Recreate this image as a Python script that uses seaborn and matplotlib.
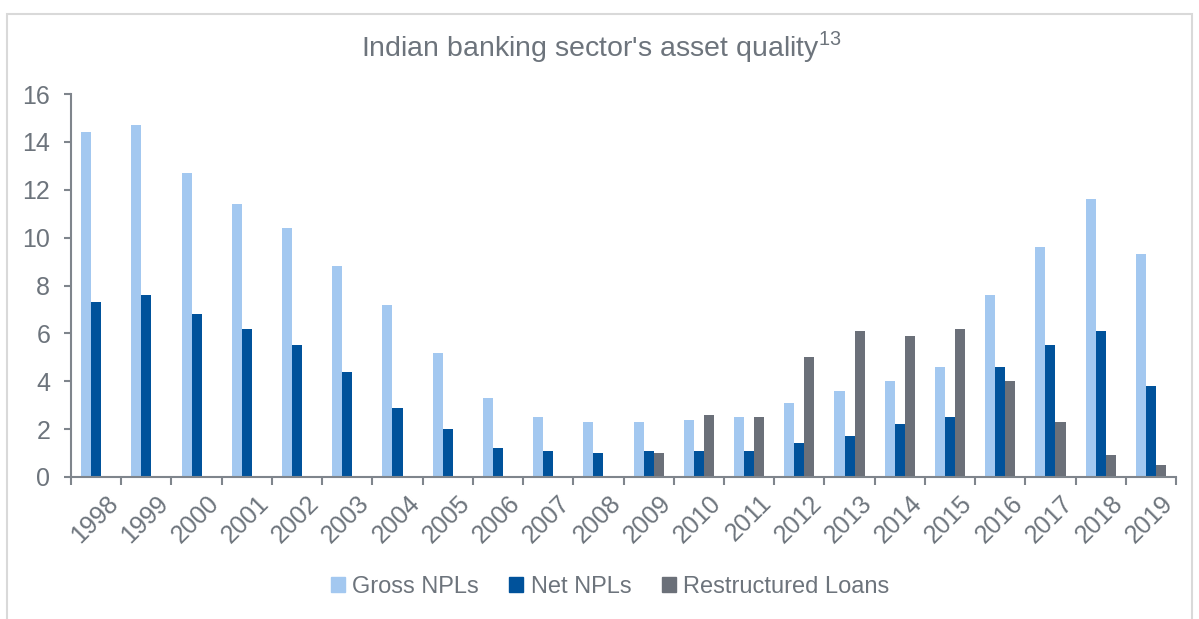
import matplotlib
matplotlib.use("Agg")
import matplotlib.pyplot as plt
import matplotlib.patches as mpatches
import numpy as np
import pandas as pd
import seaborn as sns

years = [str(y) for y in range(1998, 2020)]
gross_npls = [14.4, 14.7, 12.7, 11.4, 10.4, 8.8, 7.2, 5.2, 3.3, 2.5, 2.3,
              2.3, 2.4, 2.5, 3.1, 3.6, 4.0, 4.6, 7.6, 9.6, 11.6, 9.3]
net_npls = [7.3, 7.6, 6.8, 6.2, 5.5, 4.4, 2.9, 2.0, 1.2, 1.1, 1.0,
            1.1, 1.1, 1.1, 1.4, 1.7, 2.2, 2.5, 4.6, 5.5, 6.1, 3.8]
restructured = [np.nan] * 11 + [1.0, 2.6, 2.5, 5.0, 6.1, 5.9, 6.2, 4.0, 2.3, 0.9, 0.5]
series_names = ["Gross NPLs", "Net NPLs", "Restructured Loans"]
colors = ["#A3C8F0", "#00529B", "#6B7079"]
y_ticks = [0, 2, 4, 6, 8, 10, 12, 14, 16]

df = pd.DataFrame({
    "year": years * 3,
    "value": gross_npls + net_npls + restructured,
    "series": [series_names[0]] * 22 + [series_names[1]] * 22 + [series_names[2]] * 22,
})

sns.set_theme(style="white")
plt.rcParams["font.family"] = ["Liberation Sans", "DejaVu Sans"]
plt.rcParams["mathtext.fontset"] = "custom"
plt.rcParams["mathtext.rm"] = "Liberation Sans"

text_color = "#6D747C"
axis_color = "#7F858C"

fig = plt.figure(figsize=(11.99, 6.19), dpi=100)
ax = fig.add_axes([71 / 1199, 1 - 477 / 619, (1176 - 71) / 1199, (477 - 94) / 619])

sns.barplot(data=df, x="year", y="value", hue="series", hue_order=series_names,
            palette=colors, width=0.6, ax=ax, legend=False, saturation=1, linewidth=0)

ax.set_xlim(-0.5, len(years) - 0.5)
ax.set_ylim(0, 16)
ax.set_yticks(y_ticks)
ax.set_xlabel("")
ax.set_ylabel("")

for s in ["top", "right"]:
    ax.spines[s].set_visible(False)
for s in ["left", "bottom"]:
    ax.spines[s].set_color(axis_color)
    ax.spines[s].set_linewidth(1.5)

ax.tick_params(axis="y", which="major", direction="out", length=5, width=1.5,
               color=axis_color, labelcolor=text_color, labelsize=18, pad=10, left=True)
ax.set_xticks(np.arange(len(years)))
ax.set_xticklabels(years, rotation=45, ha="right", rotation_mode="anchor")
ax.tick_params(axis="x", which="major", length=0, labelcolor=text_color, labelsize=18, pad=10)
ax.set_xticks(np.arange(-0.5, len(years), 1.0), minor=True)
ax.tick_params(axis="x", which="minor", direction="out", length=6, width=1.5,
               color=axis_color, bottom=True)
for lbl in ax.get_xticklabels():
    lbl.set_transform(lbl.get_transform() + matplotlib.transforms.ScaledTranslation(10 / 100, 0, fig.dpi_scale_trans))

fig.text(601 / 1199, 1 - 47 / 619, r"Indian banking sector's asset quality$^{\mathregular{13}}$",
         ha="center", va="center", fontsize=20.5, color=text_color)

handles = [mpatches.Patch(color=c, label=n) for c, n in zip(colors, series_names)]
fig.legend(handles=handles, loc="center", bbox_to_anchor=(610 / 1199, 1 - 587 / 619),
           ncol=3, frameon=False, fontsize=17, labelcolor=text_color,
           handlelength=0.6, handleheight=0.6, handletextpad=0.3, columnspacing=1.3)

border = mpatches.Rectangle((7 / 1199, -0.05), (1192 - 7) / 1199, (612 + 31 - 7) / 619,
                            transform=fig.transFigure, fill=False, edgecolor="#D9D9D9", linewidth=1.5)
fig.patches.append(border)

fig.savefig("out.png", dpi=100)
